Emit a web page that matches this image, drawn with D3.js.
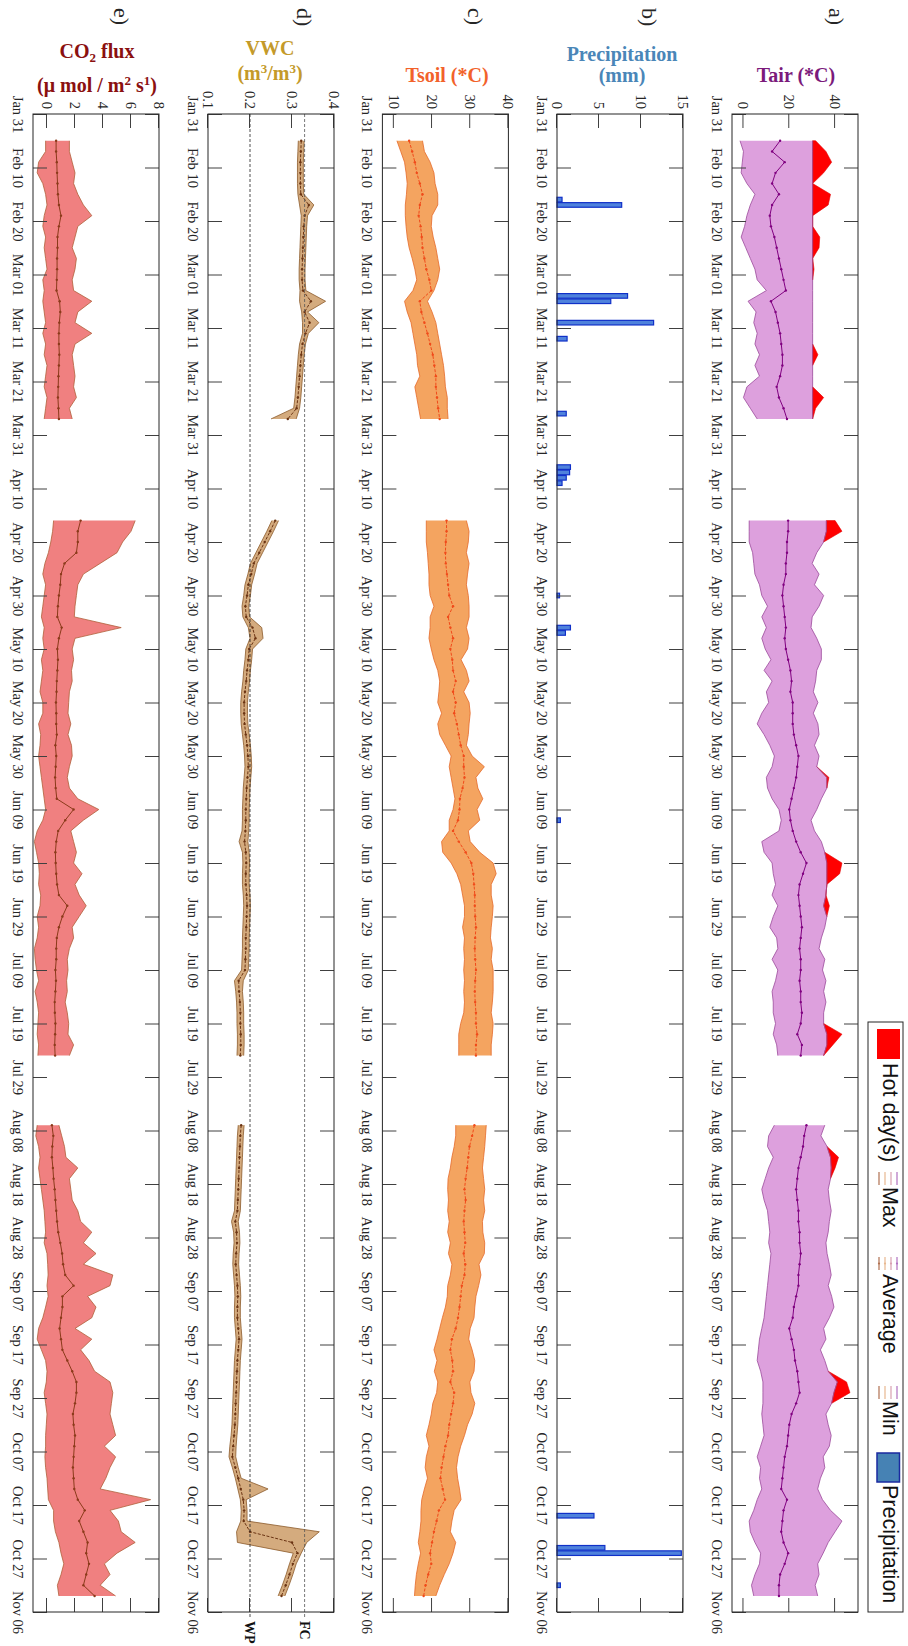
<!DOCTYPE html>
<html>
<head>
<meta charset="utf-8">
<script src="https://cdn.jsdelivr.net/npm/d3@7/dist/d3.min.js"></script>
<style>
  body { margin: 0; background: #fff; }
  svg { display: block; }
  .tick text { font-family: 'Liberation Serif', 'Times New Roman', serif; font-size: 14.5px; fill: #262626; }
  .tick line { stroke: #404040; }
</style>
</head>
<body>
<svg id="chart" width="908" height="1646"></svg>
<script>
// ---- data ----
// three measuring periods, one value every 2 days
const STEP = 2;
const segStart = ['2020-02-05', '2020-04-16', '2020-08-07'];
const dateStart = '2020-01-31', dateEnd = '2020-11-06';

// a) Tair (*C)
const tairMin = [
  [-1.5, 0, -0.5, -1, 1.5, 5, 3, 1.5, 0.5, -1, 1, 3, 5, 6, 10, 2, 5.5, 4.5, 6, 5, 7, 5, 7, 1.5, 0, 3, 6],
  [2.5, 2.5, 2.5, 4, 4.5, 5, 7, 8, 10.5, 8, 10, 8, 9.5, 12, 9, 12.5, 10, 11, 8, 6, 9, 11.5, 13.5, 12.5, 10, 10.5, 12.5, 15.5, 16.5, 15.5, 8, 9, 12.5, 13, 14, 12.5, 15, 13, 11.5, 14.5, 15, 12.5, 15, 14, 12.5, 13, 13, 14, 13, 14.5, 15],
  [13.5, 11, 10.5, 13, 11, 9.5, 8, 9, 10.5, 11, 11.5, 11, 12, 11.5, 11, 10.5, 10, 9.5, 9, 8, 7, 6.5, 6, 7.5, 8.5, 8.5, 8.5, 8, 8.5, 9, 7.5, 6, 7.5, 7, 8, 6, 4.5, 2.5, 3, 5, 7.5, 7, 5, 3.5, 4.5]
];
const tairAvg = [
  [16, 12.5, 18, 14, 12.5, 15.5, 12.5, 11.5, 12, 13.5, 14.5, 15.5, 16.5, 17.5, 18.5, 12, 14, 15, 16, 16.5, 17, 17, 16, 14.5, 15.5, 17.5, 19],
  [19.5, 19.5, 19, 19, 18.5, 18.5, 17.5, 17, 17.5, 18, 18.5, 18, 18.5, 19.5, 20.5, 21, 20.5, 21.5, 21.5, 21.5, 22, 23, 24, 23.5, 23, 22, 21, 20, 20.5, 21.5, 23, 25, 27.5, 26, 24.5, 24, 24.5, 25, 25.5, 25, 24.5, 25, 25, 24.5, 25, 25, 25.5, 25, 23.5, 25.5, 25],
  [27.5, 26.5, 26, 25, 24, 23.5, 23, 23.5, 24, 24, 24.5, 24.5, 25, 24.5, 24, 24, 23, 22, 21.5, 20, 21, 22, 22.5, 23.5, 24, 24.5, 23, 21, 20, 19.5, 19, 18, 17.5, 17, 16.5, 19, 17.5, 17, 16.5, 17.5, 19.5, 18, 16, 15.5, 15.5]
];
const tairMax = [
  [30.2, 30.2, 30.2, 30.2, 30.2, 30.2, 30.2, 30.2, 30.2, 30.2, 30.2, 30.2, 30.2, 30.2, 30.2, 30.2, 30.2, 30.2, 30.2, 30.2, 30.2, 30.2, 30.2, 30.2, 30.2, 30.2, 30.2],
  [36.2, 36.2, 35, 32, 30, 33, 31, 35, 33, 30, 29.5, 32, 34, 34, 32, 31.5, 30.5, 32.5, 30.5, 32.5, 33, 31, 33, 32, 36.4, 36.4, 34, 32, 29.5, 31, 34, 35.5, 36.4, 36.4, 36.4, 36, 35, 36.4, 35.5, 34, 33, 35.5, 34.5, 36, 35, 36, 35, 35, 36.4, 36.4, 35],
  [35.5, 33.8, 36.5, 38, 38.3, 38, 37, 37.5, 38.3, 37.5, 37, 36, 36.5, 37.5, 38.3, 37, 38.5, 39.5, 37.5, 35, 36, 33.6, 35.5, 37, 41, 39.5, 38.5, 36, 37, 38.3, 37.5, 34.8, 35.5, 33.6, 32.4, 34.5, 38, 43, 40, 37, 34.8, 32.4, 33, 31.3, 32.4]
];
// hot day peaks (null = no hot day)
const tairHot = [
  [31.5, 36, 38.5, 35, 30.2, 38, 37, 30.2, 30.2, 33.3, 33, 30.2, 30.8, 30.2, null, null, null, null, null, 30.2, 32.5, 30.2, null, 30.2, 35, 31.5, 30.2],
  [40, 43, 35, null, null, null, null, null, null, null, null, null, null, null, null, null, null, null, null, null, null, null, null, 32, 37.3, 36.4, null, null, null, null, null, 35.5, 43, 42, 36.4, 36, 37.5, 36.4, null, null, null, null, null, null, null, null, null, 35, 43, 39, 35],
  [null, null, 36.5, 41.5, 40, 38, null, null, null, null, null, null, null, null, null, null, null, null, null, null, null, null, null, 37, 45, 46.5, 38.5, null, null, null, null, null, null, null, null, null, null, null, null, null, null, null, null, null, null]
];

// b) Precipitation (mm)
const precipDates = ['2020-02-16', '2020-02-17', '2020-03-05', '2020-03-06', '2020-03-10', '2020-03-13', '2020-03-27', '2020-04-06', '2020-04-07', '2020-04-08', '2020-04-09', '2020-04-30', '2020-05-06', '2020-05-07', '2020-06-11', '2020-10-19', '2020-10-25', '2020-10-26', '2020-11-01'];
const precipMM = [0.6, 7.7, 8.4, 6.4, 11.5, 1.2, 1.1, 1.6, 1.5, 1.1, 0.6, 0.3, 1.6, 1.0, 0.4, 4.4, 5.7, 14.8, 0.4];

// c) Tsoil (*C)
const tsoilMin = [
  [10.8, 11.8, 12.8, 13.2, 13.5, 13.3, 13, 13, 13.2, 13.5, 14, 14.8, 15.5, 16, 15, 12.8, 13.5, 14.5, 15, 15.5, 16, 16.2, 16.8, 15.5, 16, 16.5, 17],
  [18.5, 18.5, 18.5, 18.8, 19, 19.2, 19.2, 19.5, 20.5, 19.5, 19.5, 19.2, 19.8, 20.5, 21.5, 22, 21.8, 21.5, 22.5, 21.5, 22, 23.5, 25, 24.5, 25, 25.5, 26, 25.5, 24.5, 24.5, 22.5, 22.8, 25, 26.5, 27.5, 28, 28.5, 28.5, 28, 28.5, 28.3, 28.5, 28.3, 28.5, 28.3, 28.5, 28.3, 27.5, 27, 27, 27],
  [26.2, 26.2, 25.8, 25.2, 24.8, 24.2, 24.1, 24.3, 24.1, 24.5, 24.1, 24.8, 24.3, 25.2, 24.8, 24.1, 24, 23.5, 22.7, 22, 21.3, 20.5, 21.3, 20.6, 21.5, 21.2, 20.2, 19.8, 19.2, 18.5, 19.2, 18.5, 18.2, 18.8, 18, 17.3, 17.1, 17.1, 16.8, 16.4, 17, 16.4, 15.9, 15.6, 15.4]
];
const tsoilAvg = [
  [14, 14.8, 15.5, 16, 16.8, 17.5, 16.8, 16.5, 17, 17.3, 17.5, 18, 18.5, 19.3, 19.8, 16.8, 17.2, 18, 18.8, 19.5, 20.2, 20.6, 21, 21, 21.3, 21.6, 22],
  [23.8, 23.8, 23.6, 23.5, 23.6, 23.9, 24.2, 24.5, 25.5, 24.2, 24.8, 25.5, 24.8, 25.3, 25.5, 26.2, 25.5, 26.2, 25.8, 26.5, 27, 27.5, 28.3, 28.3, 28.5, 28, 27.3, 27.2, 26.8, 25.5, 27, 28.8, 30.3, 30.8, 31, 31.2, 31.2, 31.3, 31.5, 31.3, 31.2, 31.3, 31.5, 31.3, 31.2, 31.3, 31.5, 31.5, 31.8, 31.5, 31.5],
  [31.1, 30.5, 29.8, 29.5, 29.2, 28.8, 28.5, 28.8, 28.5, 28.3, 28.5, 28.7, 28.3, 28.7, 28.5, 27.8, 27.5, 27.2, 26.8, 26.2, 25.2, 24.8, 25.3, 25.5, 24.8, 25.8, 25.5, 25, 24.5, 24.2, 23.5, 23, 22.5, 22.2, 22.8, 23.4, 21.8, 21.2, 20.5, 20, 19.5, 19.8, 19, 18.3, 17.8]
];
const tsoilMax = [
  [17.5, 18, 19.5, 20.5, 20.8, 21.5, 21.5, 20, 19.8, 20.3, 21, 21.5, 22, 21.5, 20.5, 18.8, 20, 21, 21.5, 22, 22.5, 23, 23.3, 23.5, 24, 24, 24.2],
  [29, 29.7, 29.5, 29, 29.7, 29.3, 29, 29.5, 29.7, 29.7, 29, 29.7, 29.3, 27.6, 29, 29.7, 28.3, 29.7, 30, 29.7, 29.5, 29, 30.5, 33.7, 31.5, 32, 33.3, 31.8, 32.5, 29.5, 30, 32.5, 36, 36.8, 35.5, 35.5, 36, 35.8, 35.5, 35.3, 35.8, 35.5, 36, 36, 36, 35.8, 35.5, 36, 35.8, 35.5, 35.5],
  [34.2, 34, 33.8, 33.5, 33.2, 33.5, 33.8, 33.5, 33.8, 33.2, 33.3, 33.8, 33.7, 32.3, 32.8, 32.2, 31.5, 31.2, 31, 30, 29.6, 30.5, 31.2, 31, 29.9, 30.2, 31.2, 30.5, 29.3, 28.5, 27.5, 26.8, 26.4, 26.7, 27.2, 27.6, 25.8, 25.2, 24.8, 26.2, 25.5, 24.5, 23.2, 22, 21]
];

// d) VWC (m3/m3)
const vwcMin = [
  [0.315, 0.314, 0.313, 0.313, 0.313, 0.314, 0.318, 0.322, 0.321, 0.320, 0.319, 0.318, 0.317, 0.317, 0.319, 0.318, 0.323, 0.325, 0.325, 0.318, 0.315, 0.313, 0.311, 0.309, 0.307, 0.304, 0.250],
  [0.252, 0.240, 0.227, 0.214, 0.201, 0.195, 0.188, 0.185, 0.181, 0.183, 0.196, 0.200, 0.190, 0.188, 0.185, 0.183, 0.180, 0.178, 0.178, 0.179, 0.182, 0.185, 0.187, 0.188, 0.186, 0.184, 0.183, 0.182, 0.182, 0.181, 0.174, 0.182, 0.183, 0.182, 0.182, 0.184, 0.185, 0.184, 0.183, 0.182, 0.182, 0.181, 0.180, 0.163, 0.166, 0.168, 0.169, 0.169, 0.170, 0.170, 0.169],
  [0.172, 0.170, 0.169, 0.168, 0.167, 0.166, 0.165, 0.164, 0.163, 0.156, 0.161, 0.162, 0.160, 0.159, 0.161, 0.163, 0.164, 0.163, 0.163, 0.165, 0.167, 0.165, 0.163, 0.162, 0.161, 0.160, 0.159, 0.158, 0.157, 0.155, 0.152, 0.150, 0.158, 0.165, 0.171, 0.177, 0.179, 0.178, 0.168, 0.170, 0.303, 0.294, 0.286, 0.277, 0.267]
];
const vwcAvg = [
  [0.322, 0.321, 0.320, 0.320, 0.320, 0.321, 0.340, 0.330, 0.328, 0.327, 0.326, 0.325, 0.324, 0.324, 0.326, 0.345, 0.330, 0.342, 0.332, 0.325, 0.322, 0.320, 0.318, 0.316, 0.314, 0.311, 0.290],
  [0.260, 0.248, 0.235, 0.222, 0.209, 0.203, 0.196, 0.193, 0.189, 0.191, 0.206, 0.213, 0.198, 0.196, 0.193, 0.191, 0.188, 0.186, 0.186, 0.187, 0.190, 0.193, 0.195, 0.196, 0.194, 0.192, 0.191, 0.190, 0.190, 0.189, 0.187, 0.190, 0.191, 0.190, 0.190, 0.192, 0.193, 0.192, 0.191, 0.190, 0.190, 0.189, 0.188, 0.173, 0.174, 0.176, 0.177, 0.177, 0.178, 0.178, 0.177],
  [0.179, 0.177, 0.176, 0.175, 0.174, 0.173, 0.172, 0.171, 0.170, 0.165, 0.168, 0.169, 0.167, 0.166, 0.168, 0.170, 0.171, 0.170, 0.170, 0.172, 0.174, 0.172, 0.170, 0.169, 0.168, 0.167, 0.166, 0.165, 0.164, 0.162, 0.160, 0.158, 0.165, 0.172, 0.178, 0.184, 0.186, 0.185, 0.200, 0.300, 0.313, 0.302, 0.294, 0.285, 0.275]
];
const vwcMax = [
  [0.329, 0.328, 0.327, 0.327, 0.327, 0.328, 0.352, 0.337, 0.335, 0.334, 0.333, 0.332, 0.331, 0.331, 0.333, 0.380, 0.337, 0.364, 0.339, 0.332, 0.329, 0.327, 0.325, 0.323, 0.321, 0.318, 0.310],
  [0.268, 0.256, 0.243, 0.230, 0.217, 0.211, 0.204, 0.201, 0.197, 0.199, 0.228, 0.231, 0.206, 0.204, 0.201, 0.199, 0.196, 0.194, 0.194, 0.195, 0.198, 0.201, 0.203, 0.204, 0.202, 0.200, 0.199, 0.198, 0.198, 0.197, 0.195, 0.198, 0.199, 0.198, 0.198, 0.200, 0.201, 0.200, 0.199, 0.198, 0.198, 0.197, 0.196, 0.184, 0.182, 0.184, 0.185, 0.185, 0.186, 0.186, 0.185],
  [0.186, 0.184, 0.183, 0.182, 0.181, 0.180, 0.179, 0.178, 0.177, 0.172, 0.175, 0.176, 0.174, 0.173, 0.175, 0.177, 0.178, 0.177, 0.177, 0.179, 0.181, 0.179, 0.177, 0.176, 0.175, 0.174, 0.173, 0.172, 0.171, 0.169, 0.167, 0.166, 0.172, 0.179, 0.243, 0.191, 0.193, 0.193, 0.365, 0.335, 0.322, 0.310, 0.302, 0.293, 0.283]
];
const vwcWP = 0.2, vwcFC = 0.33;

// e) CO2 flux (umol / m2 s1)
const co2Min = [
  [-0.1, -0.1, -0.6, -0.7, -0.3, -0.1, 0, -0.2, -0.3, -0.1, -0.2, -0.1, 0, -0.3, -0.2, -0.3, -0.2, -0.1, -0.3, -0.1, -0.2, 0, -0.1, -0.2, 0, -0.1, -0.2],
  [0.47, 0.4, 0.27, 0.1, -0.15, -0.3, -0.1, -0.2, -0.3, -0.4, -0.2, -0.3, -0.2, -0.4, -0.3, -0.4, -0.5, -0.3, -0.3, -0.6, -0.45, -0.5, -0.6, -0.5, -0.4, -0.3, -0.2, -0.1, -0.3, -0.7, -0.9, -0.75, -0.6, -0.55, -0.6, -0.45, -0.5, -0.7, -0.6, -0.7, -0.9, -0.85, -0.75, -0.6, -0.85, -0.7, -0.6, -0.65, -0.7, -0.6, -0.65],
  [-0.7, -0.8, -0.6, -0.5, -0.6, -0.5, -0.4, -0.3, -0.2, -0.15, -0.1, -0.2, 0, 0.05, 0.08, 0, 0.08, -0.1, -0.3, -0.6, -0.7, -0.4, -0.1, 0, -0.05, -0.2, -0.1, 0, -0.05, -0.1, -0.1, -0.15, -0.1, 0, 0.05, 0.1, 0.47, 0.47, 0.6, 0.85, 1.0, 1.2, 1.0, 0.74, 0.85]
];
const co2Avg = [
  [0.65, 0.65, 0.7, 0.72, 0.75, 0.78, 0.85, 1.0, 0.85, 0.75, 0.75, 0.72, 0.72, 0.7, 0.68, 0.9, 0.95, 0.88, 0.85, 0.85, 0.88, 0.85, 0.82, 0.8, 0.78, 0.82, 0.85],
  [2.4, 2.2, 2.2, 2.1, 1.25, 1.0, 0.95, 0.85, 0.78, 0.74, 1.05, 0.85, 0.74, 0.78, 0.74, 0.7, 0.68, 0.64, 0.66, 0.66, 0.7, 0.6, 0.66, 0.62, 0.58, 0.62, 0.7, 1.9, 1.3, 0.8, 0.66, 0.6, 0.62, 0.66, 0.72, 0.85, 1.45, 1.1, 0.85, 0.7, 0.66, 0.66, 0.6, 0.64, 0.6, 0.55, 0.56, 0.6, 0.58, 0.55, 0.58],
  [0.35, 0.45, 0.38, 0.35, 0.42, 0.47, 0.55, 0.6, 0.66, 0.72, 0.8, 0.95, 1.08, 1.15, 1.3, 1.9, 1.1, 1.1, 1.0, 0.9, 1.0, 1.1, 1.45, 1.8, 2.1, 2.1, 2.0, 1.85, 1.9, 2.0, 1.95, 1.9, 1.85, 1.9, 1.95, 2.2, 2.7, 2.3, 2.6, 2.9, 2.8, 3.0, 2.8, 2.6, 3.4]
];
const co2Max = [
  [1.6, 1.6, 1.8, 2.0, 1.9, 2.2, 2.6, 3.2, 2.2, 2.0, 1.8, 2.1, 2.0, 1.8, 1.9, 3.2, 2.2, 2.0, 3.2, 2.0, 1.8, 1.9, 2.0, 1.9, 2.1, 1.6, 1.8],
  [6.3, 6.0, 5.4, 5.0, 3.8, 2.6, 2.2, 2.1, 2.0, 1.95, 5.3, 2.0, 1.8, 1.9, 1.75, 1.8, 1.6, 1.55, 1.5, 1.7, 1.5, 1.75, 1.8, 1.6, 1.45, 1.6, 2.2, 3.7, 2.6, 1.7, 1.9, 2.1, 1.9, 2.5, 2.0, 2.3, 2.8, 2.3, 1.8, 1.9, 1.6, 1.45, 1.5, 1.4, 1.45, 1.3, 1.45, 1.55, 1.5, 1.9, 1.6],
  [0.85, 1.05, 1.25, 1.35, 2.2, 1.6, 1.7, 1.8, 2.2, 2.4, 3.2, 2.6, 3.5, 2.6, 4.7, 4.5, 2.9, 3.5, 3.2, 2.0, 3.2, 2.4, 3.0, 3.4, 4.5, 4.7, 4.6, 4.5, 4.7, 4.9, 4.1, 4.9, 4.5, 4.2, 3.8, 7.4, 4.5, 5.1, 5.3, 6.3, 5.0, 4.1, 4.5, 3.8, 4.9]
];

// ---- drawing ----
const parse = d3.utcParse('%Y-%m-%d');
const svg = d3.select('#chart');
// the whole figure is drawn landscape and turned a quarter clockwise
const land = svg.append('g').attr('transform', 'translate(908,0) rotate(90)');

const X0 = 114, X1 = 1612, PH = 126;
const x = d3.scaleUtc().domain([parse(dateStart), parse(dateEnd)]).range([X0, X1]);
const tickDates = d3.range(29).map(i => d3.utcDay.offset(parse(dateStart), i * 10));

const yA = d3.scaleLinear().domain([-5, 50]).range([50 + PH, 50]);
const yB = d3.scaleLinear().domain([0, 15]).range([225 + PH, 225]);
const yC = d3.scaleLinear().domain([7, 40]).range([399.6 + PH, 399.6]);
const yD = d3.scaleLinear().domain([0.1, 0.4]).range([574 + PH, 574]);
const yE = d3.scaleLinear().domain([-1, 8]).range([749 + PH, 749]);

function segRows(s, mn, av, mx, hot) {
  const start = parse(segStart[s]);
  return mn[s].map((v, i) => ({
    date: d3.utcDay.offset(start, i * STEP),
    min: v, avg: av[s][i], max: mx[s][i],
    hot: hot ? hot[s][i] : null
  }));
}

function band(y, mn, av, mx, st, hot) {
  for (let s = 0; s < 3; s++) {
    const rows = segRows(s, mn, av, mx, hot);
    land.append('path').datum(rows)
      .attr('d', d3.area().x(d => x(d.date)).y0(d => y(d.min)).y1(d => y(d.max)))
      .attr('fill', st.fill);
    if (hot) {
      land.append('path').datum(rows)
        .attr('d', d3.area().defined(d => d.hot != null).x(d => x(d.date)).y0(d => y(d.max)).y1(d => y(d.hot)))
        .attr('fill', '#ff0000').attr('stroke', '#e00000').attr('stroke-width', 0.6);
    }
    ['min', 'max'].forEach(k => {
      land.append('path').datum(rows)
        .attr('d', d3.line().x(d => x(d.date)).y(d => y(d[k])))
        .attr('fill', 'none').attr('stroke', st.edge).attr('stroke-width', 0.8);
    });
    land.append('path').datum(rows)
      .attr('d', d3.line().x(d => x(d.date)).y(d => y(d.avg)))
      .attr('fill', 'none').attr('stroke', st.avg).attr('stroke-width', 1)
      .attr('stroke-dasharray', st.dash || null);
    land.append('g').selectAll('circle').data(rows).join('circle')
      .attr('cx', d => x(d.date)).attr('cy', d => y(d.avg)).attr('r', 1.2)
      .attr('fill', st.avg);
  }
}

band(yA, tairMin, tairAvg, tairMax, {fill: '#dda0dd', edge: '#9a4a9a', avg: '#800080'}, tairHot);
band(yC, tsoilMin, tsoilAvg, tsoilMax, {fill: '#f4a460', edge: '#e56a2a', avg: '#f04a1a', dash: '3,1.5'});
band(yD, vwcMin, vwcAvg, vwcMax, {fill: '#d4ab7e', edge: '#8b5a2b', avg: '#6b3413', dash: '3,1.5'});
band(yE, co2Min, co2Avg, co2Max, {fill: '#f08080', edge: '#b0603a', avg: '#8b3a1a'});

// precipitation bars
land.append('g').selectAll('rect').data(precipDates).join('rect')
  .attr('x', d => x(parse(d)) - 2.3)
  .attr('width', 4.6)
  .attr('y', (d, i) => yB(precipMM[i]))
  .attr('height', (d, i) => yB(0) - yB(precipMM[i]))
  .attr('fill', '#4f82dc').attr('stroke', '#1030c8').attr('stroke-width', 1.2);

// WP / FC reference lines
[[vwcWP, 'WP', '#222'], [vwcFC, 'FC', '#555']].forEach(([v, lab, c]) => {
  land.append('line').attr('x1', X0).attr('x2', 1618).attr('y1', yD(v)).attr('y2', yD(v))
    .attr('stroke', c).attr('stroke-width', 0.8).attr('stroke-dasharray', '3,2');
  land.append('text').attr('x', 1621).attr('y', yD(v)).attr('dy', '0.35em')
    .attr('font-family', "'Liberation Serif', serif").attr('font-weight', 'bold')
    .attr('font-size', 14).attr('fill', '#111').text(lab);
});

// axes frames
function frame(y, ticks) {
  const top = y.range()[1], bot = y.range()[0];
  const g = land.append('g');
  g.append('g').attr('transform', `translate(0,${bot})`)
    .call(d3.axisBottom(x).tickValues(tickDates).tickFormat(d3.utcFormat('%b %d'))
      .tickSizeInner(-14).tickSizeOuter(0).tickPadding(10));
  g.append('g').attr('transform', `translate(0,${top})`)
    .call(d3.axisTop(x).tickValues(tickDates).tickFormat('').tickSizeInner(-14).tickSizeOuter(0));
  g.append('g').attr('transform', `translate(${X0},0)`)
    .call(d3.axisLeft(y).tickValues(ticks).tickFormat(d => d).tickSizeInner(-14).tickSizeOuter(0).tickPadding(5));
  g.append('g').attr('transform', `translate(${X1},0)`)
    .call(d3.axisRight(y).tickValues(ticks).tickFormat('').tickSizeInner(-14).tickSizeOuter(0));
  g.selectAll('.domain').remove();
  g.append('rect').attr('x', X0).attr('y', top).attr('width', X1 - X0).attr('height', bot - top)
    .attr('fill', 'none').attr('stroke', '#262626').attr('stroke-width', 1);
}
frame(yA, [0, 20, 40]);
frame(yB, [0, 5, 10, 15]);
frame(yC, [10, 20, 30, 40]);
frame(yD, [0.1, 0.2, 0.3, 0.4]);
frame(yE, [0, 2, 4, 6, 8]);

// panel letters
[['a)', 79], ['b)', 266], ['c)', 440], ['d)', 611], ['e)', 794]].forEach(([t, yy]) => {
  land.append('text').attr('x', 8).attr('y', yy)
    .attr('font-family', "'Liberation Serif', serif").attr('font-size', 22).attr('fill', '#262626').text(t);
});

// legend
const lg = land.append('g').attr('font-family', "'Liberation Sans', Arial, sans-serif").attr('font-size', 21.5).attr('fill', '#111');
lg.append('rect').attr('x', 1022).attr('y', 5).attr('width', X1 - 1022).attr('height', 35)
  .attr('fill', '#fff').attr('stroke', '#262626');
lg.append('rect').attr('x', 1029).attr('y', 8).attr('width', 30).attr('height', 23).attr('fill', '#ff0000');
lg.append('text').attr('x', 1063).attr('y', 25.5).text('Hot day(s)');
const iconCols = ['#b07050', '#e8b890', '#d8a0b0', '#b070c0'];
function icon(x0, dots) {
  iconCols.forEach((c, i) => {
    const yy = 29 - i * 6;
    lg.append('line').attr('x1', x0).attr('x2', x0 + 13).attr('y1', yy).attr('y2', yy)
      .attr('stroke', c).attr('stroke-width', 1.2);
    if (dots) lg.append('circle').attr('cx', x0 + 6.5).attr('cy', yy).attr('r', 1.1).attr('fill', c);
  });
}
icon(1172, false);
lg.append('text').attr('x', 1187).attr('y', 25.5).text('Max');
icon(1257, true);
lg.append('text').attr('x', 1274).attr('y', 25.5).text('Average');
icon(1386, false);
lg.append('text').attr('x', 1401).attr('y', 25.5).text('Min');
lg.append('rect').attr('x', 1453).attr('y', 8.5).attr('width', 29).attr('height', 22.5)
  .attr('fill', '#4682b4').attr('stroke', '#1a2aa0').attr('stroke-width', 1.5);
lg.append('text').attr('x', 1485).attr('y', 25.5).text('Precipitation');

// titles (upright on the page)
const titles = [
  {cx: 796, color: '#7b1a7b', lines: [[82, 'Tair (*C)']]},
  {cx: 622, color: '#4a86b8', lines: [[61, 'Precipitation'], [82, '(mm)']]},
  {cx: 447, color: '#f2622a', lines: [[82, 'Tsoil (*C)']]},
  {cx: 270, color: '#c49a2a', lines: [[55, 'VWC'], [80, null]]},
  {cx: 97, color: '#8b1010', lines: [[58, null], [92, null]]}
];
const tg = svg.append('g').attr('font-family', "'Liberation Serif', 'Times New Roman', serif")
  .attr('font-weight', 'bold').attr('font-size', 20).attr('text-anchor', 'middle');
titles.forEach(t => {
  t.lines.forEach(([yy, s], li) => {
    const el = tg.append('text').attr('x', t.cx).attr('y', yy).attr('fill', t.color);
    if (s) { el.text(s); return; }
    const parts = t.cx === 270
      ? [['(m'], ['3', 'sup'], ['/m'], ['3', 'sup'], [')']]
      : li === 0
        ? [['CO'], ['2', 'sub'], [' flux']]
        : [['(\u03bc mol / m'], ['2', 'sup'], [' s'], ['1', 'sup'], [')']];
    parts.forEach(([txt, kind]) => {
      const sp = el.append('tspan').text(txt);
      if (kind === 'sup') sp.attr('font-size', 13).attr('baseline-shift', '55%');
      if (kind === 'sub') sp.attr('font-size', 13).attr('baseline-shift', '-30%');
    });
  });
});
</script>
</body>
</html>
